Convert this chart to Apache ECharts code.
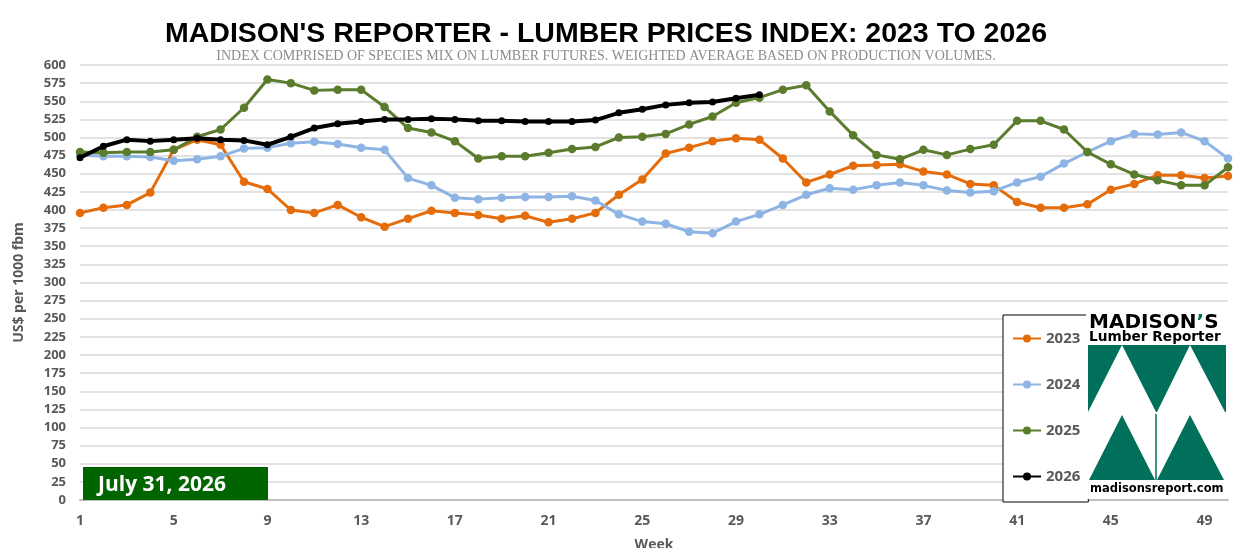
<!DOCTYPE html>
<html>
<head>
<meta charset="utf-8">
<script src="https://cdn.jsdelivr.net/npm/echarts@6/dist/echarts.min.js"></script>
<style>
html,body{margin:0;padding:0;background:#fff;}
#chart{width:1255px;height:548px;}
</style>
</head>
<body>
<div id="chart"></div>
<script>
var weeks = ['1','2','3','4','5','6','7','8','9','10','11','12','13','14','15','16','17','18','19','20','21','22','23','24','25','26','27','28','29','30','31','32','33','34','35','36','37','38','39','40','41','42','43','44','45','46','47','48','49','50'];
var y2023 = [396,403,407,424,483,497,490,439,429,400,396,407,390,377,388,399,396,393,388,392,383,388,396,421,442,478,486,495,499,497,471,438,449,461,462,463,453,449,436,434,411,403,403,408,428,436,448,448,444,447];
var y2024 = [476,474,474,473,468,470,474,485,486,492,494,491,486,483,444,434,417,415,417,418,418,419,413,394,384,381,370,368,384,394,407,421,430,428,434,438,434,427,424,426,438,446,464,480,495,505,504,507,495,471];
var y2025 = [480,479,480,480,483,501,511,541,580,575,565,566,566,542,513,507,495,471,474,474,479,484,487,500,501,505,518,529,548,555,566,572,536,503,476,470,483,476,484,490,523,523,511,480,463,449,441,434,434,459];
var y2026 = [472,488,497,495,497,499,497,496,490,501,513,519,522,525,525,526,525,523,523,522,522,522,524,534,539,545,548,549,554,559];
var seriesNames = ['2023','2024','2025','2026'];
var seriesColors = ['#E46C0A','#8DB4E2','#5B7B2D','#000000'];
var seriesWidths = [3,3,3,4];
var dateLabel = 'July 31, 2026';
var titleText = "MADISON'S REPORTER - LUMBER PRICES INDEX: 2023 TO 2026";
var subText = 'INDEX COMPRISED OF SPECIES MIX ON LUMBER FUTURES. WEIGHTED AVERAGE BASED ON PRODUCTION VOLUMES.';

var allData = [y2023, y2024, y2025, y2026];
var chart = echarts.init(document.getElementById('chart'));
var gray = '#595959';
var logoGreen = '#00705A';

var series = seriesNames.map(function (n, i) {
  return {
    name: n,
    type: 'line',
    data: allData[i],
    symbol: 'circle',
    symbolSize: i === 3 ? 7 : 8.5,
    lineStyle: { width: seriesWidths[i], color: seriesColors[i] },
    itemStyle: { color: seriesColors[i] },
    emphasis: { disabled: true },
    z: 2 + i
  };
});

var option = {
  backgroundColor: '#ffffff',
  animation: false,
  title: {
    text: titleText,
    subtext: subText,
    left: 601,
    textAlign: 'center',
    top: 15,
    itemGap: 0,
    textStyle: { fontFamily: 'Liberation Sans', fontWeight: 'bold', fontSize: 28.5, color: '#000' },
    subtextStyle: { fontFamily: 'Liberation Serif', fontSize: 14, color: '#8c8c8c' }
  },
  grid: { left: 80, right: 27, top: 65, bottom: 48, containLabel: false, outerBoundsMode: 'none' },
  legend: {
    orient: 'vertical',
    left: 1003,
    top: 315,
    data: seriesNames,
    itemWidth: 28,
    itemHeight: 10,
    itemGap: 31,
    padding: [16, 8, 18, 9],
    borderColor: '#000',
    borderWidth: 1,
    backgroundColor: '#fff',
    textStyle: { fontFamily: 'Open Sans', fontWeight: 'bold', fontSize: 15, color: gray },
    selectedMode: false
  },
  xAxis: {
    type: 'category',
    data: weeks,
    boundaryGap: false,
    axisLine: { lineStyle: { color: '#bfbfbf', width: 2 } },
    axisTick: { show: false },
    axisLabel: { interval: 3, color: gray, fontWeight: 'bold', fontSize: 14, fontFamily: 'Open Sans', margin: 14 },
    name: 'Week',
    nameLocation: 'middle',
    nameGap: 38,
    nameTextStyle: { color: gray, fontWeight: 'bold', fontSize: 14, fontFamily: 'Open Sans' }
  },
  yAxis: {
    type: 'value',
    min: 0,
    max: 600,
    interval: 25,
    axisLine: { show: false },
    axisTick: { show: false },
    axisLabel: { color: gray, fontWeight: 'bold', fontSize: 13, fontFamily: 'Open Sans', margin: 14 },
    splitLine: { lineStyle: { color: '#d9d9d9', width: 1.5 } },
    name: 'US$ per 1000 fbm',
    nameLocation: 'middle',
    nameRotate: 90,
    nameGap: 54,
    nameTextStyle: { color: gray, fontWeight: 'bold', fontSize: 14, fontFamily: 'Open Sans' }
  },
  graphic: [
    { type: 'rect', z: 100, shape: { x: 83, y: 467, width: 185, height: 33 }, style: { fill: '#006400' } },
    { type: 'text', z: 101, x: 98, y: 485, style: { text: dateLabel, fill: '#fff', font: 'bold 21px "Open Sans"', verticalAlign: 'middle' } },
    { type: 'rect', z: 100, shape: { x: 1086, y: 311, width: 142, height: 188 }, style: { fill: '#fff' } },
    { type: 'text', z: 101, x: 1089, y: 313, style: {
      text: '{a|MADISON}{b|\u2019}{a|S}',
      rich: {
        a: { fontFamily: 'DejaVu Sans', fontWeight: 'bold', fontSize: 20, fill: '#000' },
        b: { fontFamily: 'DejaVu Sans', fontWeight: 'bold', fontSize: 20, fill: logoGreen }
      }
    } },
    { type: 'text', z: 101, x: 1089, y: 330, style: { text: 'Lumber Reporter', fill: '#000', font: 'bold 13.7px "DejaVu Sans"' } },
    { type: 'rect', z: 101, shape: { x: 1088, y: 345, width: 138, height: 67 }, style: { fill: logoGreen } },
    { type: 'polygon', z: 102, shape: { points: [[1122, 345], [1088, 412], [1156, 412]] }, style: { fill: '#fff' } },
    { type: 'polygon', z: 102, shape: { points: [[1190, 345], [1157, 412], [1225, 412]] }, style: { fill: '#fff' } },
    { type: 'polygon', z: 101, shape: { points: [[1122, 415], [1089, 480], [1155, 480]] }, style: { fill: logoGreen } },
    { type: 'polygon', z: 101, shape: { points: [[1190, 415], [1157, 480], [1224, 480]] }, style: { fill: logoGreen } },
    { type: 'line', z: 101, shape: { x1: 1156, y1: 414, x2: 1156, y2: 480 }, style: { stroke: logoGreen, lineWidth: 1.5 } },
    { type: 'text', z: 101, x: 1090, y: 483, style: { text: 'madisonsreport.com', fill: '#000', font: 'bold 11.5px "DejaVu Sans"' } }
  ],
  series: series
};
chart.setOption(option);
</script>
</body>
</html>
